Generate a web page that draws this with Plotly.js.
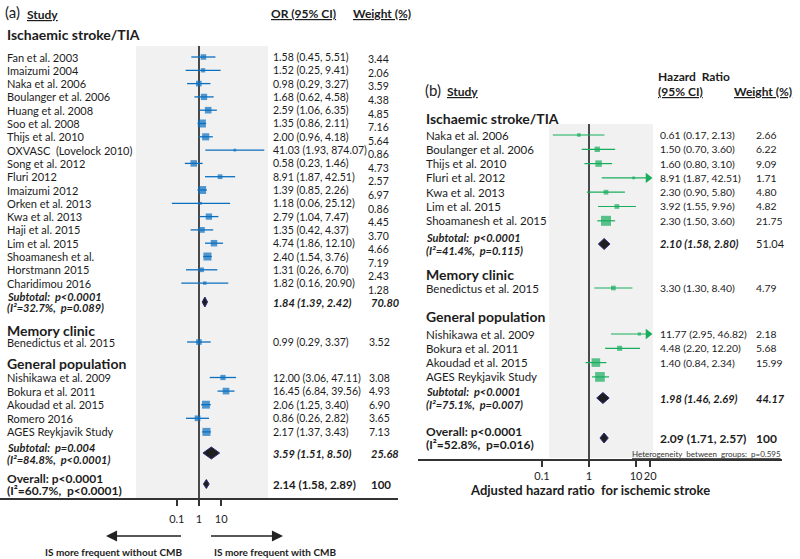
<!DOCTYPE html>
<html><head><meta charset="utf-8">
<script src="https://cdn.plot.ly/plotly-3.0.1.min.js"></script>
<style>html,body{margin:0;padding:0;background:#fff}#chart{width:800px;height:559px}</style>
</head><body><div id="chart"></div>
<script>
// ================= DATA: panel (a) – odds ratios =================
const aIschStudy = ['Fan et al. 2003','Imaizumi 2004','Naka et al. 2006','Boulanger et al. 2006','Huang et al. 2008','Soo et al. 2008','Thijs et al. 2010','OXVASC  (Lovelock 2010)','Song et al. 2012','Fluri 2012','Imaizumi 2012','Orken et al. 2013','Kwa et al. 2013','Haji et al. 2015','Lim et al. 2015','Shoamanesh et al.','Horstmann 2015','Charidimou 2016'];
const aIschOR = [1.58,1.52,0.98,1.68,2.59,1.35,2.00,41.03,0.58,8.91,1.39,1.18,2.79,1.35,4.74,2.40,1.31,1.82];
const aIschLo = [0.45,0.25,0.29,0.62,1.06,0.86,0.96,1.93,0.23,1.87,0.85,0.06,1.04,0.42,1.86,1.54,0.26,0.16];
const aIschHi = [5.51,9.41,3.27,4.58,6.35,2.11,4.18,874.07,1.46,42.51,2.26,25.12,7.47,4.37,12.10,3.76,6.70,20.90];
const aIschW  = [3.44,2.06,3.59,4.38,4.85,7.16,5.64,0.86,4.73,2.57,6.97,0.86,4.45,3.70,4.66,7.19,2.43,1.28];

const aMemStudy = ['Benedictus et al. 2015'];
const aMemOR = [0.99]; const aMemLo = [0.29]; const aMemHi = [3.37]; const aMemW = [3.52];

const aGenStudy = ['Nishikawa et al. 2009','Bokura et al. 2011','Akoudad et al. 2015','Romero 2016','AGES Reykjavik Study'];
const aGenOR = [12.00,16.45,2.06,0.86,2.17];
const aGenLo = [3.06,6.84,1.25,0.26,1.37];
const aGenHi = [47.11,39.56,3.40,2.82,3.43];
const aGenW  = [3.08,4.93,6.90,3.65,7.13];

const aSumLine1 = ['Subtotal:  p<0.0001','Subtotal:  p=0.004','Overall: p<0.0001'];
const aSumLine2 = ['(I²=32.7%,  p=0.089)','(I²=84.8%,  p<0.0001)','(I²=60.7%,  p<0.0001)'];
const aSumEst = [1.84,3.59,2.14];
const aSumLo  = [1.39,1.51,1.58];
const aSumHi  = [2.42,8.50,2.89];
const aSumW   = [70.80,25.68,100];
const aTicks  = [0.1,1,10];
const aTickText = ['0.1','1','10'];

// ================= DATA: panel (b) – hazard ratios =================
const bIschStudy = ['Naka et al. 2006','Boulanger et al. 2006','Thijs et al. 2010','Fluri et al. 2012','Kwa et al. 2013','Lim et al. 2015','Shoamanesh et al. 2015'];
const bIschHR = [0.61,1.50,1.60,8.91,2.30,3.92,2.30];
const bIschLo = [0.17,0.70,0.80,1.87,0.90,1.55,1.50];
const bIschHi = [2.13,3.60,3.10,42.51,5.80,9.96,3.60];
const bIschW  = [2.66,6.22,9.09,1.71,4.80,4.82,21.75];

const bMemStudy = ['Benedictus et al. 2015'];
const bMemHR = [3.30]; const bMemLo = [1.30]; const bMemHi = [8.40]; const bMemW = [4.79];

const bGenStudy = ['Nishikawa et al. 2009','Bokura et al. 2011','Akoudad et al. 2015','AGES Reykjavik Study'];
const bGenHR = [11.77,4.48,1.40,1.71];   // AGES values estimated from the marker (not printed)
const bGenLo = [2.95,2.20,0.84,1.16];
const bGenHi = [46.82,12.20,2.34,2.67];
const bGenW  = [2.18,5.68,15.99,20.32];
const bGenPrinted = [true,true,true,false];

const bSumLine1 = ['Subtotal:  p<0.0001','Subtotal:  p<0.0001','Overall: p<0.0001'];
const bSumLine2 = ['(I²=41.4%,  p=0.115)','(I²=75.1%,  p=0.007)','(I²=52.8%,  p=0.016)'];
const bSumEst = [2.10,1.98,2.09];
const bSumLo  = [1.58,1.46,1.71];
const bSumHi  = [2.80,2.69,2.57];
const bSumW   = [51.04,44.17,100];
const bTicks  = [0.1,1,10,20];
const bTickText = ['0.1','1','10','20'];
const bClip = 20;

// ================= LAYOUT HELPERS =================
const W = 800, H = 559;
const FONT = 'Lato, "Open Sans", "DejaVu Sans", sans-serif';
const BLUE = '#0b6fbf', GREEN = '#17ad5c', TXT = '#1c1c1c';
const X = v => v / W, Y = v => 1 - v / H;
const anns = [];
function T(x, y, text, size, opt) {
  anns.push(Object.assign({xref:'paper', yref:'paper', x:X(x), y:Y(y), text:text, showarrow:false,
    xanchor:'left', yanchor:'middle', borderpad:0, font:{family:FONT, size:size, color:TXT}}, opt || {}));
}
const f2 = v => v.toFixed(2);
const ci = (e,l,h) => f2(e) + ' (' + f2(l) + ', ' + f2(h) + ')';
const wt = v => (v === 100 ? '100' : f2(v));

const traces = [];
function studyTraces(est, lo, hi, w, ys, color, k, xa, ya, lw, clip) {
  const lx = [], ly = [], arX = [], arY = [];
  est.forEach((e, i) => {
    const h = clip ? Math.min(hi[i], clip) : hi[i];
    lx.push(lo[i], h, null); ly.push(ys[i], ys[i], null);
    if (clip && hi[i] > clip) { arX.push(clip * 0.9); arY.push(ys[i]); }
  });
  traces.push({type:'scatter', mode:'lines', x:lx, y:ly, xaxis:xa, yaxis:ya, line:{color:color, width:lw}, hoverinfo:'skip'});
  traces.push({type:'scatter', mode:'markers', x:est, y:ys, xaxis:xa, yaxis:ya,
    marker:{symbol:'square', color:color, size:w.map(v => k * Math.sqrt(v)), line:{width:0}}, hoverinfo:'skip'});
  if (arX.length) traces.push({type:'scatter', mode:'markers', x:arX, y:arY, xaxis:xa, yaxis:ya,
    marker:{symbol:'triangle-right', color:color, size:9, line:{width:0}}, hoverinfo:'skip'});
}
function diamond(e, l, h, y, hh, xa, ya) {
  traces.push({type:'scatter', mode:'lines', x:[l, e, h, e, l], y:[y, y - hh, y, y + hh, y], xaxis:xa, yaxis:ya,
    fill:'toself', fillcolor:'#1e1e1e', line:{color:'#2b2b78', width:1}, hoverinfo:'skip'});
}

// ================= PANEL (a) =================
const aIschY = aIschStudy.map((_, i) => 57 + i * 13.3);
const aIschWY = aIschStudy.map((_, i) => 59.3 + i * 13.57);
const aMemY = [342];
const aGenY = aGenStudy.map((_, i) => 377.5 + i * 13.6);
const aSumY = [302, 453, 484];
const aSumH = [5, 6, 4.5];

traces.push({type:'scatter', mode:'lines', x:[1,1], y:[46,498], xaxis:'x', yaxis:'y', line:{color:'#111', width:1.5}, hoverinfo:'skip'});
studyTraces(aIschOR, aIschLo, aIschHi, aIschW, aIschY, BLUE, 3.0, 'x', 'y', 1.3);
studyTraces(aMemOR, aMemLo, aMemHi, aMemW, aMemY, BLUE, 3.0, 'x', 'y', 1.3);
studyTraces(aGenOR, aGenLo, aGenHi, aGenW, aGenY, BLUE, 3.0, 'x', 'y', 1.3);
aSumEst.forEach((e, i) => diamond(e, aSumLo[i], aSumHi[i], aSumY[i], aSumH[i], 'x', 'y'));

const AS = 11, AV = 10.5;
T(4, 12, '(a)', 15);
T(26, 14, '<b><u>Study</u></b>', 12);
T(270, 13, '<b><u>OR (95% CI)</u></b>', 12);
T(352, 13, '<b><u>Weight (%)</u></b>', 12);
T(6, 35, '<b>Ischaemic stroke/TIA</b>', 14);
aIschStudy.forEach((s, i) => { T(6, aIschY[i], s, AS); T(272, aIschY[i], ci(aIschOR[i], aIschLo[i], aIschHi[i]), AV); T(367, aIschWY[i], wt(aIschW[i]), AV); });
T(6, 330, '<b>Memory clinic</b>', 14);
aMemStudy.forEach((s, i) => { T(6, aMemY[i], s, AS); T(272, aMemY[i], ci(aMemOR[i], aMemLo[i], aMemHi[i]), AV); T(368, aMemY[i], wt(aMemW[i]), AV); });
T(6, 363, '<b>General population</b>', 14);
aGenStudy.forEach((s, i) => { T(6, aGenY[i], s, AS); T(272, aGenY[i], ci(aGenOR[i], aGenLo[i], aGenHi[i]), AV); T(368, aGenY[i], wt(aGenW[i]), AV); });
aSumEst.forEach((e, i) => {
  const ov = i === 2;
  const wrap = s => ov ? '<b>' + s + '</b>' : '<b><i>' + s + '</i></b>';
  T(6, aSumY[i] - 6, wrap(aSumLine1[i]), ov ? 12 : 11);
  T(6, aSumY[i] + 6, wrap(aSumLine2[i]), ov ? 12 : 11);
  T(272, aSumY[i], wrap(ci(e, aSumLo[i], aSumHi[i])), ov ? 11.5 : 11);
  T(370, aSumY[i], wrap(wt(aSumW[i])), ov ? 11.5 : 11);
});
// direction arrows
anns.push({xref:'paper', yref:'paper', x:X(106), y:Y(536), ax:78, ay:0, text:' ', showarrow:true, arrowhead:2, arrowsize:1.7, arrowwidth:1.3, arrowcolor:'#222'});
anns.push({xref:'paper', yref:'paper', x:X(283), y:Y(536), ax:-75, ay:0, text:' ', showarrow:true, arrowhead:2, arrowsize:1.7, arrowwidth:1.3, arrowcolor:'#222'});
T(114, 552, '<b>IS more frequent without CMB</b>', 10, {xanchor:'center'});
T(275, 552, '<b>IS more frequent with CMB</b>', 10, {xanchor:'center'});

// ================= PANEL (b) =================
const bIschY = bIschStudy.map((_, i) => 135 + i * 14.3);
const bMemY = [288];
const bGenY = bGenStudy.map((_, i) => 334 + i * 14.3);
const bSumY = [244, 398, 438];
const bSumH = [5.5, 5.5, 5];

traces.push({type:'scatter', mode:'lines', x:[1,1], y:[124,459], xaxis:'x2', yaxis:'y2', line:{color:'#111', width:1.5}, hoverinfo:'skip'});
studyTraces(bIschHR, bIschLo, bIschHi, bIschW, bIschY, GREEN, 2.15, 'x2', 'y2', 1.2, bClip);
studyTraces(bMemHR, bMemLo, bMemHi, bMemW, bMemY, GREEN, 2.15, 'x2', 'y2', 1.2, bClip);
studyTraces(bGenHR, bGenLo, bGenHi, bGenW, bGenY, GREEN, 2.15, 'x2', 'y2', 1.2, bClip);
bSumEst.forEach((e, i) => diamond(e, bSumLo[i], bSumHi[i], bSumY[i], bSumH[i], 'x2', 'y2'));

const BS = 11.5, BV = 10.4;
T(424, 90, '(b)', 15);
T(446, 92, '<b><u>Study</u></b>', 12);
T(657, 76, '<b>Hazard  Ratio</b>', 12);
T(657, 91, '<b><u>(95% CI)</u></b>', 12);
T(733, 91, '<b><u>Weight (%)</u></b>', 12);
T(425, 118, '<b>Ischaemic stroke/TIA</b>', 14);
bIschStudy.forEach((s, i) => { T(425, bIschY[i], s, BS); T(659, bIschY[i], ci(bIschHR[i], bIschLo[i], bIschHi[i]), BV); T(755, bIschY[i], wt(bIschW[i]), BV); });
T(425, 274, '<b>Memory clinic</b>', 14);
bMemStudy.forEach((s, i) => { T(425, bMemY[i], s, BS); T(659, bMemY[i], ci(bMemHR[i], bMemLo[i], bMemHi[i]), BV); T(755, bMemY[i], wt(bMemW[i]), BV); });
T(425, 316, '<b>General population</b>', 14);
bGenStudy.forEach((s, i) => {
  T(425, bGenY[i], s, BS);
  if (bGenPrinted[i]) { T(659, bGenY[i], ci(bGenHR[i], bGenLo[i], bGenHi[i]), BV); T(755, bGenY[i], wt(bGenW[i]), BV); }
});
bSumEst.forEach((e, i) => {
  const ov = i === 2;
  const wrap = s => ov ? '<b>' + s + '</b>' : '<b><i>' + s + '</i></b>';
  T(425, bSumY[i] - 6.5, wrap(bSumLine1[i]), ov ? 12 : 11);
  T(425, bSumY[i] + 6.5, wrap(bSumLine2[i]), ov ? 12 : 11);
  T(659, bSumY[i], wrap(ci(e, bSumLo[i], bSumHi[i])), ov ? 12 : 11);
  T(755, bSumY[i], i === 0 ? wt(bSumW[i]) : wrap(wt(bSumW[i])), ov ? 12 : 11);
});
T(782, 454, '<u>Heterogeneity  between  groups:  p=0.595</u>', 8, {xanchor:'right', font:{family:FONT, size:8, color:'#333'}});
T(590, 490, '<b>Adjusted hazard ratio  for ischemic stroke</b>', 13, {xanchor:'center'});

// ================= AXES =================
const aOne = 199, aDec = 22.2, aL = 0, aR = 398;
const bOne = 589, bDec = 47, bL = 418, bR = 782;
const axBase = {type:'log', showgrid:false, zeroline:false, showline:true, linecolor:'#333', linewidth:1.5,
  ticks:'outside', ticklen:6, tickwidth:1.5, tickcolor:'#333', tickangle:0, fixedrange:true,
  tickfont:{family:FONT, size:11, color:TXT}};
const layout = {
  width:W, height:H, margin:{l:0, r:0, t:0, b:0}, paper_bgcolor:'#fff', plot_bgcolor:'rgba(0,0,0,0)',
  showlegend:false, font:{family:FONT},
  xaxis: Object.assign({}, axBase, {domain:[X(aL), X(aR)], range:[(aL - aOne) / aDec, (aR - aOne) / aDec],
    tickvals:aTicks, ticktext:aTickText, anchor:'y', ticklabelstandoff:4}),
  yaxis: {domain:[Y(498), 1], range:[498, 0], visible:false, fixedrange:true, anchor:'x'},
  xaxis2: Object.assign({}, axBase, {domain:[X(bL), X(bR)], range:[(bL - bOne) / bDec, (bR - bOne) / bDec],
    tickvals:bTicks, ticktext:bTickText, anchor:'y2'}),
  yaxis2: {domain:[Y(459), 1], range:[459, 0], visible:false, fixedrange:true, anchor:'x2'},
  shapes: [
    {type:'rect', xref:'paper', yref:'paper', x0:X(136), x1:X(268), y0:Y(498), y1:Y(46), fillcolor:'#f1f1f1', line:{width:0}, layer:'below'},
    {type:'rect', xref:'paper', yref:'paper', x0:X(549), x1:X(653), y0:Y(458), y1:Y(124), fillcolor:'#f1f1f1', line:{width:0}, layer:'below'}
  ],
  annotations: anns
};
Plotly.newPlot('chart', traces, layout, {staticPlot:true, displayModeBar:false});
</script>
</body></html>
